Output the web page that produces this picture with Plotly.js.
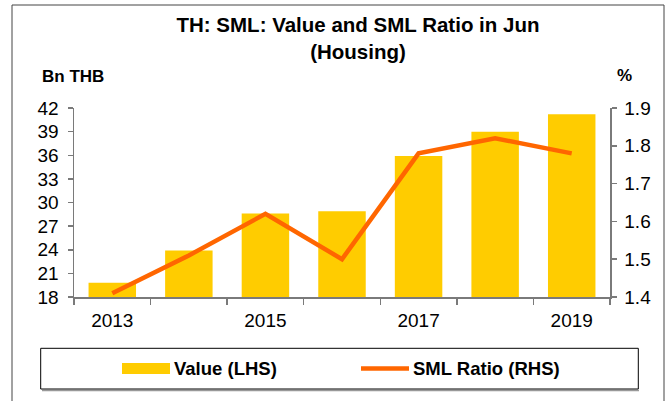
<!DOCTYPE html>
<html>
<head>
<meta charset="utf-8">
<script src="https://cdn.plot.ly/plotly-3.0.1.min.js"></script>
<style>html,body{margin:0;padding:0;background:#fff;}#chart{width:669px;height:401px;}</style>
</head>
<body>
<div id="chart"></div>
<script>
// Data
var years = [2013, 2014, 2015, 2016, 2017, 2018, 2019];
var valueLHS = [19.8, 23.9, 28.6, 28.9, 35.9, 39.0, 41.2];
var smlRatio = [1.41, 1.51, 1.62, 1.50, 1.78, 1.82, 1.78];
var xTickVals = [2013, 2015, 2017, 2019];
var xTickText = ['2013', '2015', '2017', '2019'];
var seriesNames = ['Value (LHS)', 'SML Ratio (RHS)'];

var FONT = 'Liberation Sans, Arial, sans-serif';
var W = 669, H = 401, L = 74, R = 59, T = 108, B = 104;
var pw = W - L - R, ph = H - T - B;
function px(x) { return (x - L) / pw; }
function py(y) { return (H - B - y) / ph; }

var barColor = '#FFCC00', lineColor = '#FF6600', axisColor = '#7a7a7a';
var tickFont = {family: FONT, size: 19, color: '#000'};

var traces = [
  {type: 'bar', x: years, y: valueLHS, name: seriesNames[0], marker: {color: barColor, line: {width: 0}},
   width: 0.62, yaxis: 'y'},
  {type: 'scatter', mode: 'lines', x: years, y: smlRatio, name: seriesNames[1], yaxis: 'y2',
   line: {color: lineColor, width: 4.5}}
];

var layout = {
  width: W, height: H,
  margin: {l: L, r: R, t: T, b: B, pad: 0},
  paper_bgcolor: '#fff', plot_bgcolor: '#fff',
  showlegend: false,
  font: {family: FONT, color: '#000'},
  title: {text: '<b>TH: SML: Value and SML Ratio in Jun<br>(Housing)</b>', font: {family: FONT, size: 20.5, color: '#000'},
          xref: 'container', yref: 'container', x: 358 / W, xanchor: 'center', y: 1 - 32 / H, yanchor: 'top'},
  xaxis: {range: [2012.5, 2019.5], tickvals: xTickVals, ticktext: xTickText, ticks: '', showgrid: false, zeroline: false,
          showline: true, linecolor: axisColor, linewidth: 1.5, tickfont: tickFont, ticklabelstandoff: 6,
          minor: {tick0: 2012.5, dtick: 1, ticks: 'outside', ticklen: 6, tickcolor: axisColor, tickwidth: 1.5, showgrid: false}},
  yaxis: {range: [18, 42], dtick: 3, tick0: 18, ticks: 'outside', ticklen: 5, tickcolor: axisColor, tickwidth: 1.5,
          showline: true, linecolor: axisColor, linewidth: 1.5, showgrid: false, zeroline: false,
          tickfont: tickFont, ticklabelstandoff: 5},
  yaxis2: {range: [1.4, 1.9], dtick: 0.1, tick0: 1.4, tickformat: '.1f', overlaying: 'y', side: 'right',
           ticks: 'outside', ticklen: 5, tickcolor: axisColor, tickwidth: 1.5, showline: true, linecolor: axisColor, linewidth: 1.5,
           showgrid: false, zeroline: false, tickfont: tickFont, ticklabelstandoff: 4},
  shapes: [
    {type: 'rect', xref: 'paper', yref: 'paper', x0: px(12), x1: px(664), y0: py(420), y1: py(5),
     line: {color: '#444', width: 1}, fillcolor: 'rgba(0,0,0,0)', layer: 'below'},
    {type: 'line', xref: 'paper', yref: 'paper', x0: px(42), x1: px(639), y0: py(390.5), y1: py(390.5),
     line: {color: '#999', width: 1.5}},
    {type: 'rect', xref: 'paper', yref: 'paper', x0: px(40.7), x1: px(638.3), y0: py(389), y1: py(348.3),
     line: {color: '#000', width: 1}, fillcolor: 'rgba(0,0,0,0)'},
    {type: 'rect', xref: 'paper', yref: 'paper', x0: px(122), x1: px(170), y0: py(374), y1: py(363),
     line: {width: 0}, fillcolor: barColor},
    {type: 'line', xref: 'paper', yref: 'paper', x0: px(361), x1: px(409), y0: py(368.5), y1: py(368.5),
     line: {color: lineColor, width: 4.5}}
  ],
  annotations: [
    {text: '<b>Bn THB</b>', xref: 'paper', yref: 'paper', x: px(40), y: py(76), xanchor: 'left', yanchor: 'middle',
     showarrow: false, font: {family: FONT, size: 17, color: '#000'}},
    {text: '<b>%</b>', xref: 'paper', yref: 'paper', x: px(624), y: py(75), xanchor: 'center', yanchor: 'middle',
     showarrow: false, font: {family: FONT, size: 17, color: '#000'}},
    {text: '<b>' + seriesNames[0] + '</b>', xref: 'paper', yref: 'paper', x: px(172), y: py(368.5), xanchor: 'left', yanchor: 'middle',
     showarrow: false, font: {family: FONT, size: 18.5, color: '#000'}},
    {text: '<b>' + seriesNames[1] + '</b>', xref: 'paper', yref: 'paper', x: px(411), y: py(368.5), xanchor: 'left', yanchor: 'middle',
     showarrow: false, font: {family: FONT, size: 18.5, color: '#000'}}
  ]
};

Plotly.newPlot('chart', traces, layout, {displayModeBar: false, staticPlot: true});
</script>
</body>
</html>
